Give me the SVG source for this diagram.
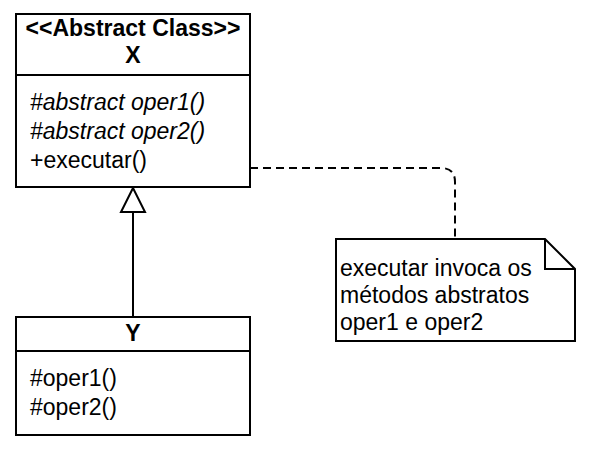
<svg xmlns="http://www.w3.org/2000/svg" width="590" height="451" viewBox="0 0 590 451">
<style>
.box{fill:#fff;stroke:#000;stroke-width:2}
.ln{fill:none;stroke:#000;stroke-width:2}
.t{font-family:"Liberation Sans",Arial,sans-serif;font-size:23px;fill:#000}
.b{font-weight:bold}
.i{font-style:italic}
.m{text-anchor:middle}
</style>
<rect width="590" height="451" fill="#fff"/>
<g id="connectors">
<path class="ln" d="M133 317 V212"/>
<polygon points="133,188 121,212 145,212" fill="#fff" stroke="#000" stroke-width="2"/>
<path class="ln" stroke-dasharray="8 5" d="M250 168 H441 Q455 168 455 182 V239"/>
</g>
<g id="X">
<rect class="box" x="16" y="14" width="234" height="173"/>
<line class="ln" x1="16" y1="75" x2="250" y2="75"/>
<text class="t b m" x="133" y="36">&lt;&lt;Abstract Class&gt;&gt;</text>
<text class="t b m" x="133" y="63">X</text>
<text class="t i" x="30" y="110">#abstract oper1()</text>
<text class="t i" x="30" y="139">#abstract oper2()</text>
<text class="t" x="30" y="168">+executar()</text>
</g>
<g id="Y">
<rect class="box" x="16" y="317" width="234" height="118"/>
<line class="ln" x1="16" y1="351" x2="250" y2="351"/>
<text class="t b m" x="133" y="341">Y</text>
<text class="t" x="30" y="386">#oper1()</text>
<text class="t" x="30" y="415">#oper2()</text>
</g>
<g id="note">
<path class="box" d="M336 239 H545 L575 269 V341 H336 Z"/>
<path class="ln" d="M545 239 V269 H575"/>
<text class="t" x="340" y="276">executar invoca os</text>
<text class="t" x="340" y="303">métodos abstratos</text>
<text class="t" x="340" y="330">oper1 e oper2</text>
</g>
</svg>
